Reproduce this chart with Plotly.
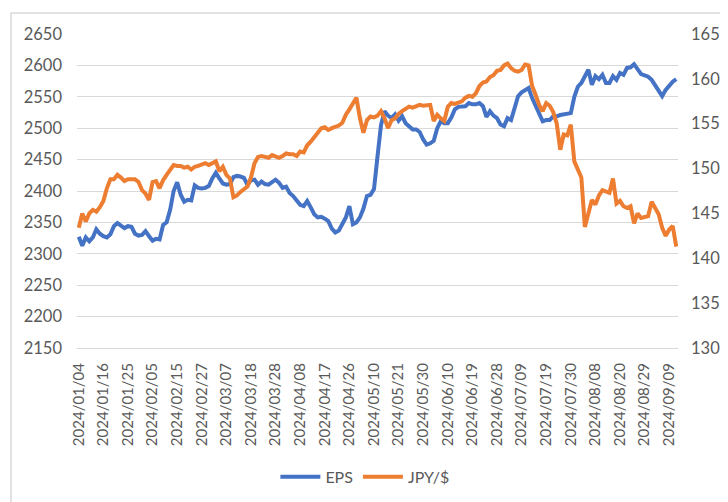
import pandas as pd
import plotly.graph_objects as go

# Tokyo market holidays in the period (trading calendar for the category axis)
jp_holidays = ["2024-01-08", "2024-02-12", "2024-02-23", "2024-03-20", "2024-04-29",
               "2024-05-03", "2024-05-06", "2024-07-15", "2024-08-12"]
dates = pd.bdate_range("2024-01-04", "2024-09-11", freq="C", holidays=jp_holidays)
categories = [d.strftime("%Y/%m/%d") for d in dates]

eps = [
    2327, 2313, 2326, 2320, 2326, 2339, 2332, 2328, 2326, 2331,
    2344, 2349, 2345, 2341, 2344, 2343, 2332, 2329, 2330, 2336,
    2328, 2321, 2324, 2323, 2346, 2350, 2370, 2400, 2414, 2394,
    2383, 2386, 2385, 2409, 2405, 2404, 2405, 2408, 2420, 2429,
    2420, 2412, 2410, 2411, 2422, 2424, 2423, 2421, 2410, 2417,
    2418, 2410, 2415, 2411, 2410, 2415, 2418, 2413, 2405, 2407,
    2397, 2392, 2385, 2378, 2376, 2384, 2374, 2363, 2358, 2359,
    2356, 2352, 2340, 2334, 2337, 2346, 2358, 2376, 2347, 2350,
    2358, 2372, 2392, 2394, 2403, 2455, 2505, 2527, 2520, 2516,
    2522, 2512, 2519, 2508, 2502, 2498, 2498, 2494, 2482, 2474,
    2476, 2480, 2500, 2511, 2508, 2508, 2517, 2530, 2534, 2535,
    2535, 2540, 2538, 2538, 2540, 2535, 2518, 2527, 2520, 2516,
    2506, 2503, 2516, 2513, 2530, 2551, 2557, 2561, 2564, 2548,
    2535, 2522, 2511, 2513, 2513, 2519, 2519, 2521, 2522, 2522,
    2524, 2550, 2566, 2572, 2581, 2593, 2569, 2583, 2578, 2585,
    2572, 2572, 2583, 2577, 2588, 2585, 2596, 2597, 2602, 2594,
    2586, 2584, 2582, 2577, 2568, 2560, 2551, 2561, 2568, 2574,
    2578,
]

jpy = [
    143.4, 145.0, 144.1, 145.0, 145.4, 145.2, 145.7, 146.4, 147.8, 148.8,
    148.8, 149.3, 149.0, 148.6, 148.8, 148.8, 148.8, 148.5, 147.6, 147.2,
    146.5, 148.5, 148.6, 147.8, 148.7, 149.3, 149.8, 150.4, 150.3, 150.3,
    150.1, 150.2, 149.9, 150.2, 150.3, 150.5, 150.6, 150.4, 150.6, 150.8,
    149.7, 150.2, 149.3, 148.9, 146.8, 147.0, 147.4, 147.7, 148.0, 149.0,
    150.6, 151.3, 151.4, 151.3, 151.2, 151.5, 151.3, 151.2, 151.4, 151.7,
    151.6, 151.6, 151.4, 151.9, 151.8, 152.6, 153.0, 153.5, 154.0, 154.5,
    154.6, 154.3, 154.5, 154.6, 154.8, 155.1, 156.0, 156.6, 157.2, 157.9,
    155.6, 154.0, 155.4, 155.8, 155.7, 155.9, 156.4, 155.6, 154.5, 155.4,
    155.6, 156.1, 156.4, 156.6, 156.9, 156.8, 157.0, 157.1, 157.0, 157.1,
    157.1, 155.3, 156.0, 155.6, 155.3, 156.9, 157.3, 157.2, 157.4, 157.5,
    157.9, 158.1, 158.0, 158.4, 159.2, 159.6, 159.7, 160.2, 160.4, 160.9,
    161.0, 161.5, 161.7, 161.2, 160.9, 160.8, 161.0, 161.6, 161.5, 159.2,
    158.2, 157.1, 156.4, 157.3, 157.0, 156.3, 155.0, 152.1, 153.8, 153.7,
    154.9, 150.8, 149.9, 149.0, 143.5, 145.0, 146.5, 146.0, 147.0, 147.6,
    147.4, 147.3, 148.9, 146.1, 146.4, 145.8, 145.6, 145.8, 143.9, 145.0,
    144.5, 144.6, 144.7, 146.3, 145.6, 144.9, 143.4, 142.5, 143.2, 143.6,
    141.3,
]

tick_labels = categories[::7]
left_ticks = list(range(2150, 2651, 50))
right_ticks = list(range(130, 166, 5))

FONT = "Lato"
GRID = "#D9D9D9"
TXT = "#595959"

fig = go.Figure()
fig.add_trace(go.Scatter(x=categories, y=eps, name="EPS", mode="lines",
                         line=dict(color="#4472C4", width=4), yaxis="y"))
fig.add_trace(go.Scatter(x=categories, y=jpy, name="JPY/$", mode="lines",
                         line=dict(color="#ED7D31", width=4), yaxis="y2"))

fig.update_layout(
    width=728, height=502,
    margin=dict(l=69, r=58, t=26, b=162),
    paper_bgcolor="white", plot_bgcolor="white",
    font=dict(family=FONT, size=15, color=TXT),
    showlegend=True,
    legend=dict(orientation="h", x=0.479, xanchor="center", y=-0.41, yanchor="middle",
                font=dict(family=FONT, size=16, color=TXT), itemwidth=40,
                bgcolor="rgba(0,0,0,0)"),
    xaxis=dict(type="category", categoryorder="array", categoryarray=categories,
               tickmode="array", tickvals=tick_labels, ticktext=tick_labels,
               tickangle=-90, showgrid=False, showline=True, linecolor=GRID,
               linewidth=1, ticks="", ticklabelstandoff=8, automargin=False,
               tickfont=dict(size=15),
               range=[-0.5, len(categories) - 0.5], zeroline=False),
    yaxis=dict(range=[2150, 2650], tickmode="array", tickvals=left_ticks,
               showgrid=True, gridcolor=GRID, gridwidth=1, zeroline=False,
               ticks="", ticklabelstandoff=14, automargin=False,
               tickfont=dict(size=16.5)),
    yaxis2=dict(range=[130, 165], tickmode="array", tickvals=right_ticks,
                overlaying="y", side="right", showgrid=False, zeroline=False,
                ticks="", ticklabelstandoff=12, automargin=False,
                tickfont=dict(size=16.5)),
    shapes=[dict(type="rect", xref="paper", yref="paper",
                 x0=-0.1098, x1=1.0849, y0=-0.5, y1=1.0669,
                 line=dict(color=GRID, width=1.5), fillcolor="rgba(0,0,0,0)",
                 layer="above")],
)

fig.write_html("out.html")
